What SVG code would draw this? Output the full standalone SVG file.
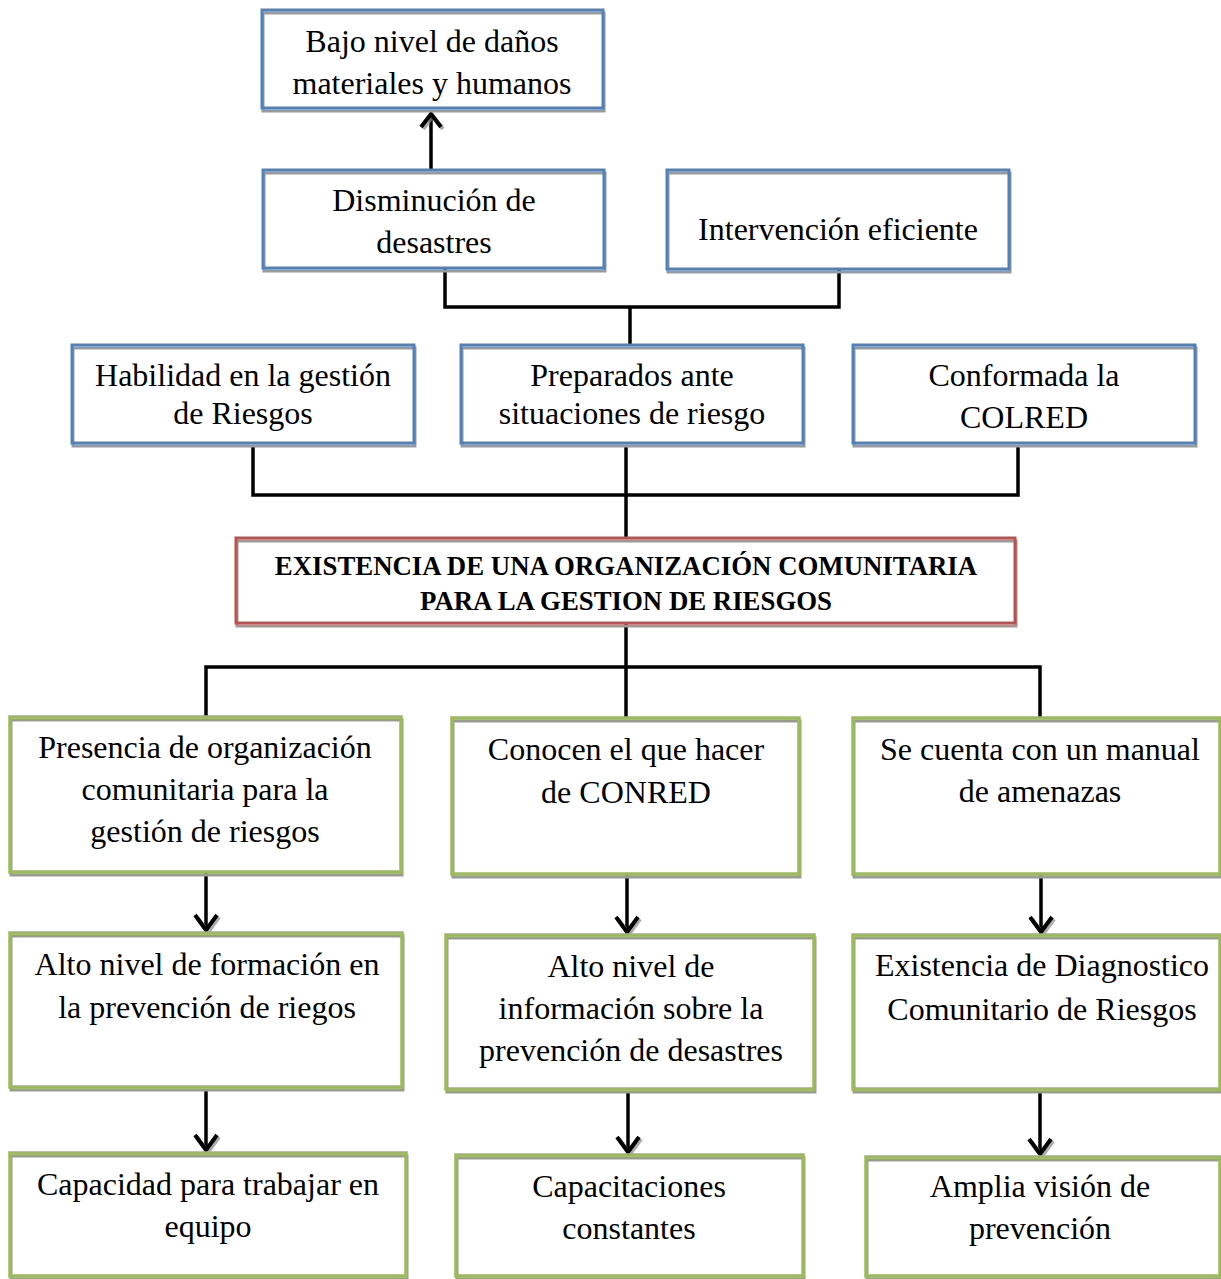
<svg xmlns="http://www.w3.org/2000/svg" width="1221" height="1279" viewBox="0 0 1221 1279">
<style>
.bg{fill:#fff;stroke:none}
.sh{fill:none;stroke:#9a9a9a;stroke-width:3}
.bl{fill:none;stroke:#4F81BD;stroke-width:3}
.rd{fill:none;stroke:#C0504D;stroke-width:3}
.gr{fill:none;stroke:#9BBB59;stroke-width:3.5}
.t{font-family:"Liberation Serif","Times New Roman",serif;font-size:32px;fill:#000;text-anchor:middle}
.b{font-family:"Liberation Serif","Times New Roman",serif;font-size:26.8px;font-weight:bold;fill:#000;text-anchor:middle}
.ln{fill:none;stroke:#000;stroke-width:3.5}
.hd{fill:none;stroke:#000;stroke-width:4}
.hs{fill:none;stroke:#888;stroke-width:4;opacity:0.7}
</style>
<rect width="1221" height="1279" fill="#fff"/>
<g id="connectors">
<line class="ln" x1="431" y1="170" x2="431" y2="113"/>
<polyline class="hs" points="423,129 433,116 443,129"/>
<polyline class="hd" points="421,127 431,114 441,127"/>
<polyline class="ln" points="445,269 445,307 839,307 839,270"/>
<line class="ln" x1="630" y1="307" x2="630" y2="345"/>
<polyline class="ln" points="253,445 253,495 1018,495 1018,445"/>
<line class="ln" x1="626" y1="445" x2="626" y2="538"/>
<line class="ln" x1="626" y1="623" x2="626" y2="717"/>
<polyline class="ln" points="206,716 206,667 1040,667 1040,717"/>
<line class="ln" x1="206" y1="873" x2="206" y2="930"/>
<polyline class="hs" points="197,917 208,932 219,917"/>
<polyline class="hd" points="195,915 206,930 217,915"/>
<line class="ln" x1="627" y1="875" x2="627" y2="932"/>
<polyline class="hs" points="618,919 629,934 640,919"/>
<polyline class="hd" points="616,917 627,932 638,917"/>
<line class="ln" x1="1041" y1="875" x2="1041" y2="932"/>
<polyline class="hs" points="1032,919 1043,934 1054,919"/>
<polyline class="hd" points="1030,917 1041,932 1052,917"/>
<line class="ln" x1="206" y1="1089" x2="206" y2="1150"/>
<polyline class="hs" points="197,1137 208,1152 219,1137"/>
<polyline class="hd" points="195,1135 206,1150 217,1135"/>
<line class="ln" x1="628" y1="1091" x2="628" y2="1152"/>
<polyline class="hs" points="619,1139 630,1154 641,1139"/>
<polyline class="hd" points="617,1137 628,1152 639,1137"/>
<line class="ln" x1="1040" y1="1091" x2="1040" y2="1154"/>
<polyline class="hs" points="1031,1141 1042,1156 1053,1141"/>
<polyline class="hd" points="1029,1139 1040,1154 1051,1139"/>
</g>
<g id="n1">
<rect class="bg" x="262" y="10" width="341" height="98"/>
<rect class="sh" x="263" y="13" width="341" height="98"/>
<rect class="bl" x="262" y="10" width="341" height="98"/>
<text class="t" x="432" y="52">Bajo nivel de daños</text>
<text class="t" x="432" y="94">materiales y humanos</text>
</g>
<g id="n2">
<rect class="bg" x="263" y="170" width="341" height="98"/>
<rect class="sh" x="264" y="173" width="341" height="98"/>
<rect class="bl" x="263" y="170" width="341" height="98"/>
<text class="t" x="434" y="211">Disminución de</text>
<text class="t" x="434" y="253">desastres</text>
</g>
<g id="n3">
<rect class="bg" x="667" y="170" width="342" height="99"/>
<rect class="sh" x="668" y="173" width="342" height="99"/>
<rect class="bl" x="667" y="170" width="342" height="99"/>
<text class="t" x="838" y="240">Intervención eficiente</text>
</g>
<g id="n4">
<rect class="bg" x="72" y="345" width="342" height="98"/>
<rect class="sh" x="73" y="348" width="342" height="98"/>
<rect class="bl" x="72" y="345" width="342" height="98"/>
<text class="t" x="243" y="386">Habilidad en la gestión</text>
<text class="t" x="243" y="424">de Riesgos</text>
</g>
<g id="n5">
<rect class="bg" x="461" y="345" width="342" height="98"/>
<rect class="sh" x="462" y="348" width="342" height="98"/>
<rect class="bl" x="461" y="345" width="342" height="98"/>
<text class="t" x="632" y="386">Preparados ante</text>
<text class="t" x="632" y="424">situaciones de riesgo</text>
</g>
<g id="n6">
<rect class="bg" x="853" y="345" width="342" height="98"/>
<rect class="sh" x="854" y="348" width="342" height="98"/>
<rect class="bl" x="853" y="345" width="342" height="98"/>
<text class="t" x="1024" y="386">Conformada la</text>
<text class="t" x="1024" y="428">COLRED</text>
</g>
<g id="n7">
<rect class="bg" x="236" y="538" width="779" height="85"/>
<rect class="sh" x="237" y="541" width="779" height="85"/>
<rect class="rd" x="236" y="538" width="779" height="85"/>
<text class="b" x="626" y="575">EXISTENCIA DE UNA ORGANIZACIÓN COMUNITARIA</text>
<text class="b" x="626" y="610">PARA LA GESTION DE RIESGOS</text>
</g>
<g id="n8">
<rect class="bg" x="10" y="717" width="391" height="155"/>
<rect class="sh" x="11" y="720" width="391" height="155"/>
<rect class="gr" x="10" y="717" width="391" height="155"/>
<text class="t" x="205" y="758">Presencia de organización</text>
<text class="t" x="205" y="800">comunitaria para la</text>
<text class="t" x="205" y="842">gestión de riesgos</text>
</g>
<g id="n9">
<rect class="bg" x="452" y="718" width="347" height="156"/>
<rect class="sh" x="453" y="721" width="347" height="156"/>
<rect class="gr" x="452" y="718" width="347" height="156"/>
<text class="t" x="626" y="760">Conocen el que hacer</text>
<text class="t" x="626" y="803">de CONRED</text>
</g>
<g id="n10">
<rect class="bg" x="853" y="718" width="367" height="156"/>
<rect class="sh" x="854" y="721" width="367" height="156"/>
<rect class="gr" x="853" y="718" width="367" height="156"/>
<text class="t" x="1040" y="760">Se cuenta con un manual</text>
<text class="t" x="1040" y="802">de amenazas</text>
</g>
<g id="n11">
<rect class="bg" x="10" y="933" width="392" height="154"/>
<rect class="sh" x="11" y="936" width="392" height="154"/>
<rect class="gr" x="10" y="933" width="392" height="154"/>
<text class="t" x="207" y="975">Alto nivel de formación en</text>
<text class="t" x="207" y="1018">la prevención de riegos</text>
</g>
<g id="n12">
<rect class="bg" x="446" y="935" width="368" height="154"/>
<rect class="sh" x="447" y="938" width="368" height="154"/>
<rect class="gr" x="446" y="935" width="368" height="154"/>
<text class="t" x="631" y="977">Alto nivel de</text>
<text class="t" x="631" y="1019">información sobre la</text>
<text class="t" x="631" y="1061">prevención de desastres</text>
</g>
<g id="n13">
<rect class="bg" x="853" y="935" width="367" height="154"/>
<rect class="sh" x="854" y="938" width="367" height="154"/>
<rect class="gr" x="853" y="935" width="367" height="154"/>
<text class="t" x="1042" y="976">Existencia de Diagnostico</text>
<text class="t" x="1042" y="1020">Comunitario de Riesgos</text>
</g>
<g id="n14">
<rect class="bg" x="10" y="1153" width="396" height="123"/>
<rect class="sh" x="11" y="1156" width="396" height="123"/>
<rect class="gr" x="10" y="1153" width="396" height="123"/>
<text class="t" x="208" y="1195">Capacidad para trabajar en</text>
<text class="t" x="208" y="1237">equipo</text>
</g>
<g id="n15">
<rect class="bg" x="456" y="1155" width="347" height="121"/>
<rect class="sh" x="457" y="1158" width="347" height="121"/>
<rect class="gr" x="456" y="1155" width="347" height="121"/>
<text class="t" x="629" y="1197">Capacitaciones</text>
<text class="t" x="629" y="1239">constantes</text>
</g>
<g id="n16">
<rect class="bg" x="866" y="1157" width="354" height="119"/>
<rect class="sh" x="867" y="1160" width="354" height="119"/>
<rect class="gr" x="866" y="1157" width="354" height="119"/>
<text class="t" x="1040" y="1197">Amplia visión de</text>
<text class="t" x="1040" y="1239">prevención</text>
</g>
</svg>
